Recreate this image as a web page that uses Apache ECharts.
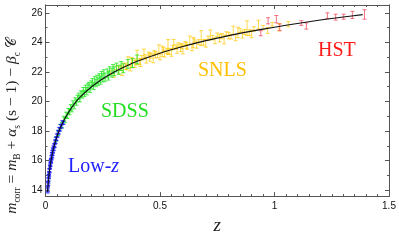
<!DOCTYPE html>
<html><head><meta charset="utf-8">
<script src="https://cdn.jsdelivr.net/npm/echarts@6/dist/echarts.min.js"></script>
<style>html,body{margin:0;padding:0;background:#fff}#c{width:399px;height:240px}</style>
</head><body><div id="c"></div>
<script>
// [z, m_corr, error]
const lowz = [[0.0095,14.05,0.15],[0.010,13.95,0.14],[0.011,14.40,0.14],[0.012,14.45,0.13],[0.0125,14.70,0.13],[0.013,14.55,0.12],[0.014,14.95,0.12],[0.015,14.90,0.12],[0.0155,15.15,0.12],[0.016,15.05,0.11],[0.017,15.35,0.11],[0.018,15.30,0.11],[0.019,15.60,0.10],[0.020,15.55,0.10],[0.021,15.80,0.10],[0.022,15.70,0.10],[0.023,15.98,0.10],[0.024,16.05,0.10],[0.025,15.95,0.10],[0.026,16.25,0.10],[0.027,16.15,0.10],[0.028,16.45,0.10],[0.029,16.30,0.10],[0.030,16.60,0.10],[0.031,16.45,0.10],[0.032,16.75,0.10],[0.033,16.62,0.10],[0.035,16.90,0.10],[0.036,16.78,0.10],[0.038,17.05,0.10],[0.040,17.00,0.10],[0.042,17.30,0.10],[0.044,17.25,0.10],[0.046,17.50,0.10],[0.048,17.45,0.10],[0.050,17.70,0.10],[0.053,17.70,0.10],[0.055,17.95,0.10],[0.058,17.90,0.10],[0.060,18.15,0.10],[0.063,18.10,0.10],[0.066,18.35,0.10],[0.070,18.30,0.10],[0.074,18.60,0.10],[0.078,18.55,0.10]];
const sdss = [[0.045,17.45,0.15],[0.055,17.85,0.15],[0.065,18.30,0.15],[0.072,18.40,0.18],[0.08,18.85,0.15],[0.085,18.75,0.18],[0.09,19.10,0.18],[0.095,19.05,0.2],[0.10,19.35,0.18],[0.105,19.30,0.2],[0.11,19.60,0.2],[0.115,19.50,0.2],[0.12,19.85,0.2],[0.125,19.70,0.2],[0.13,20.05,0.2],[0.135,19.95,0.2],[0.14,20.20,0.22],[0.145,20.35,0.22],[0.15,20.20,0.22],[0.155,20.50,0.22],[0.16,20.45,0.22],[0.165,20.70,0.25],[0.17,20.55,0.22],[0.175,20.85,0.25],[0.18,20.70,0.25],[0.185,20.95,0.25],[0.19,21.05,0.25],[0.195,20.85,0.25],[0.20,21.15,0.25],[0.205,21.30,0.25],[0.21,21.05,0.25],[0.215,21.40,0.28],[0.22,21.25,0.25],[0.225,21.50,0.28],[0.23,21.35,0.25],[0.235,21.60,0.28],[0.24,21.45,0.28],[0.245,21.75,0.28],[0.25,21.60,0.28],[0.255,21.85,0.3],[0.26,21.65,0.28],[0.27,21.90,0.3],[0.275,21.75,0.3],[0.28,22.05,0.3],[0.29,21.95,0.3],[0.295,22.20,0.3],[0.30,22.05,0.3],[0.31,22.30,0.3],[0.32,22.15,0.3],[0.33,22.40,0.3],[0.34,22.25,0.3],[0.36,22.55,0.3],[0.38,22.60,0.3],[0.40,22.85,0.3]];
const snls = [[0.285,21.96,0.15],[0.30,21.84,0.20],[0.31,22.29,0.12],[0.32,22.10,0.25],[0.33,22.28,0.18],[0.335,22.06,0.30],[0.34,22.45,0.14],[0.35,22.38,0.22],[0.355,22.31,0.16],[0.36,22.75,0.28],[0.37,22.27,0.20],[0.375,22.63,0.35],[0.38,22.76,0.13],[0.39,22.53,0.24],[0.395,22.71,0.17],[0.40,22.97,0.50],[0.41,22.70,0.19],[0.415,22.63,0.26],[0.42,22.96,0.15],[0.43,23.25,0.30],[0.435,23.02,0.15],[0.44,22.80,0.20],[0.45,23.22,0.12],[0.455,22.98,0.25],[0.46,23.11,0.18],[0.47,22.92,0.30],[0.475,23.29,0.14],[0.48,23.17,0.22],[0.49,23.12,0.16],[0.495,23.55,0.28],[0.50,23.02,0.20],[0.51,23.40,0.35],[0.515,23.52,0.13],[0.52,23.24,0.24],[0.53,23.43,0.17],[0.535,23.69,0.50],[0.54,23.38,0.19],[0.55,23.32,0.26],[0.555,23.65,0.15],[0.56,23.90,0.30],[0.57,23.69,0.15],[0.575,23.46,0.20],[0.58,23.85,0.12],[0.59,23.63,0.25],[0.595,23.75,0.18],[0.60,23.52,0.30],[0.61,23.91,0.14],[0.615,23.78,0.22],[0.62,23.70,0.16],[0.63,24.15,0.28],[0.64,23.64,0.20],[0.645,23.99,0.35],[0.65,24.11,0.13],[0.66,23.85,0.24],[0.67,24.02,0.17],[0.68,24.29,0.50],[0.69,24.00,0.19],[0.70,23.94,0.26],[0.71,24.27,0.15],[0.72,24.54,0.30],[0.73,24.32,0.15],[0.74,24.11,0.20],[0.75,24.52,0.12],[0.76,24.28,0.25],[0.77,24.42,0.18],[0.78,24.20,0.30],[0.79,24.58,0.14],[0.80,24.46,0.22],[0.81,24.39,0.16],[0.82,24.82,0.28],[0.83,24.31,0.20],[0.84,24.67,0.35],[0.85,24.80,0.13],[0.86,24.53,0.24],[0.87,24.70,0.17],[0.88,24.96,0.50],[0.89,24.66,0.19],[0.90,24.58,0.26],[0.91,24.91,0.15],[0.93,25.20,0.30],[0.95,25.00,0.15],[0.97,24.81,0.20],[0.99,25.23,0.12],[1.02,25.03,0.25],[1.06,25.23,0.18]];
const hst = [[0.94,24.62,0.17],[0.972,25.46,0.21],[1.008,25.57,0.25],[1.023,25.02,0.23],[1.117,25.31,0.16],[1.139,25.11,0.21],[1.231,25.81,0.19],[1.267,25.71,0.20],[1.302,25.74,0.17],[1.34,25.86,0.24],[1.393,25.89,0.32]];
const curve = [[0.009,13.90],[0.01,14.12],[0.015,15.0],[0.02,15.62],[0.03,16.5],[0.04,17.12],[0.05,17.62],[0.06,18.05],[0.08,18.72],[0.1,19.25],[0.125,19.82],[0.15,20.28],[0.2,20.98],[0.25,21.54],[0.3,21.99],[0.35,22.38],[0.4,22.72],[0.5,23.27],[0.6,23.72],[0.7,24.12],[0.8,24.46],[0.9,24.76],[1.0,25.03],[1.1,25.28],[1.2,25.51],[1.3,25.72],[1.385,25.88]];
const yMajor = [14,16,18,20,22,24,26];
const yMinor = [15,17,19,21,23,25];
const sampleNames = ['Low-z','SDSS','SNLS','HST'];

const chart = echarts.init(document.getElementById('c'), null, {renderer:'canvas'});
const frame = '#555';
function errRender(color){
  return function(params, api){
    const z = api.value(0), m = api.value(1), e = api.value(2);
    const t = api.coord([z, m+e]), b = api.coord([z, m-e]);
    const w = 2;
    const st = {stroke: color, lineWidth: 1};
    return {type:'group', children:[
      {type:'line', shape:{x1:t[0],y1:t[1],x2:b[0],y2:b[1]}, style:st},
      {type:'line', shape:{x1:t[0]-w,y1:t[1],x2:t[0]+w,y2:t[1]}, style:st},
      {type:'line', shape:{x1:b[0]-w,y1:b[1],x2:b[0]+w,y2:b[1]}, style:st}
    ]};
  };
}
function errSeries(name, data, color){
  return {name, type:'custom', data, encode:{x:0,y:1}, renderItem: errRender(color), clip:false, silent:true, z:2};
}
const tickStyle = {color: frame, width: 1};
const labFont = {fontFamily:'Liberation Sans, Arial, sans-serif', fontSize:10, color:'#111'};
const xBase = {type:'value', min:0, max:1.5, interval:0.5, gridIndex:0,
  axisLine:{show:true, onZero:false, lineStyle:{color:frame,width:1}},
  axisTick:{show:true, inside:true, length:4, lineStyle:tickStyle},
  minorTick:{show:true, splitNumber:10, length:2, lineStyle:tickStyle},
  splitLine:{show:false}, minorSplitLine:{show:false}};
const yBase = {type:'value', min:13.6, max:26.53, gridIndex:0,
  axisLine:{show:true, onZero:false, lineStyle:{color:frame,width:1}},
  splitLine:{show:false}};
const option = {
  animation:false,
  backgroundColor:'#fff',
  grid:{left:45.5, right:10, top:5, bottom:32},
  xAxis:[
    Object.assign({}, xBase, {position:'bottom',
      axisLabel:Object.assign({show:true, margin:5, formatter:v=>String(v)}, labFont),
      name:'z', nameLocation:'middle', nameGap:18,
      nameTextStyle:{fontFamily:'Liberation Serif, serif', fontStyle:'italic', fontSize:19, color:'#222'}}),
    Object.assign({}, xBase, {position:'top', axisLabel:{show:false}})
  ],
  yAxis:[
    Object.assign({}, yBase, {position:'left',
      axisTick:{show:true, inside:true, length:4, lineStyle:tickStyle, customValues:yMajor},
      axisLabel:Object.assign({show:true, margin:3, customValues:yMajor}, labFont)}),
    Object.assign({}, yBase, {position:'left',
      axisTick:{show:true, inside:true, length:2, lineStyle:tickStyle, customValues:yMinor},
      axisLabel:{show:false}}),
    Object.assign({}, yBase, {position:'right',
      axisTick:{show:true, inside:true, length:4, lineStyle:tickStyle, customValues:yMajor},
      axisLabel:{show:false}}),
    Object.assign({}, yBase, {position:'right',
      axisTick:{show:true, inside:true, length:2, lineStyle:tickStyle, customValues:yMinor},
      axisLabel:{show:false}})
  ],
  series:[
    errSeries(sampleNames[2], snls, 'rgba(255,200,0,0.7)'),
    errSeries(sampleNames[1], sdss, 'rgba(40,230,40,0.85)'),
    errSeries(sampleNames[0], lowz, 'rgba(30,30,255,0.9)'),
    errSeries(sampleNames[3], hst, 'rgba(240,80,100,0.8)'),
    {type:'line', data:curve, showSymbol:false, smooth:0.3, z:5, silent:true,
     lineStyle:{color:'#111', width:1.1}}
  ],
  graphic:[
    {type:'text', x:12, y:126, rotation:Math.PI/2, silent:true,
     style:{text:'{i|m}{sb|corr}{n| = }{i|m}{sb|B}{n| + }{i|α}{sb|s}{n| (s − 1) − }{i|β}{sb|c}{n| }{c|𝒞}',
       align:'center', verticalAlign:'middle', fill:'#222',
       rich:{
         i:{fontFamily:'Liberation Serif, serif', fontStyle:'italic', fontSize:15.5, lineHeight:20, verticalAlign:'middle', fill:'#222'},
         n:{fontFamily:'Liberation Serif, serif', fontSize:15.5, lineHeight:20, verticalAlign:'middle', fill:'#222'},
         sb:{fontFamily:'Liberation Serif, serif', fontSize:9.5, lineHeight:9, verticalAlign:'bottom', fill:'#222'},
         c:{fontFamily:'DejaVu Serif, Noto Sans, serif', fontSize:14, lineHeight:20, verticalAlign:'middle', fill:'#222'}
       }}},
    {type:'text', left:68, top:157, silent:true,
     style:{text:'{a|Low-}{b|z}', rich:{
       a:{fontFamily:'Liberation Serif, serif', fontSize:20, fill:'#2222ff'},
       b:{fontFamily:'Liberation Serif, serif', fontStyle:'italic', fontSize:20, fill:'#2222ff'}}}},
    {type:'text', left:101, top:102, silent:true,
     style:{text:'SDSS', fontFamily:'Liberation Serif, serif', fontSize:20, fill:'#22dd22'}},
    {type:'text', left:198, top:61, silent:true,
     style:{text:'SNLS', fontFamily:'Liberation Serif, serif', fontSize:20, fill:'#ffc000'}},
    {type:'text', left:318, top:41, silent:true,
     style:{text:'HST', fontFamily:'Liberation Serif, serif', fontSize:20, fill:'#ff1a1a'}}
  ]
};
chart.setOption(option);
</script>
</body></html>
